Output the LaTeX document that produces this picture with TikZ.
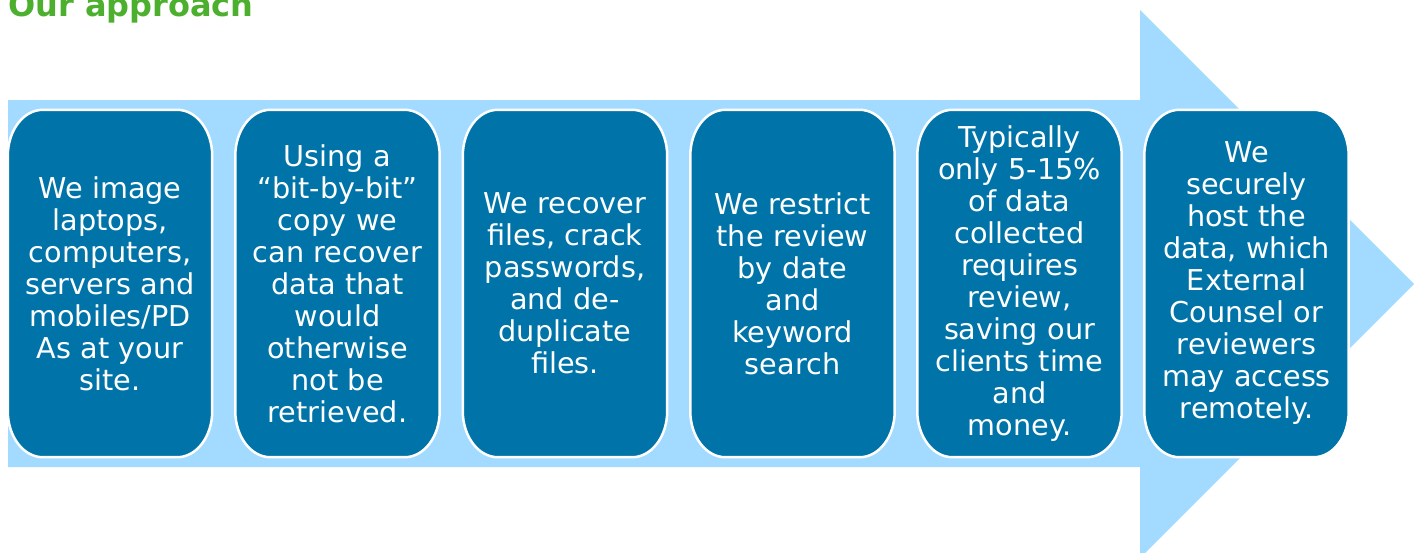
\documentclass[tikz,border=0pt]{standalone}
\usepackage{fontspec}
\setmainfont{DejaVu Sans}
\usetikzlibrary{backgrounds,calc}
\definecolor{arrowblue}{RGB}{162,219,255}
\definecolor{boxblue}{RGB}{0,116,168}
\definecolor{titlegreen}{RGB}{76,176,46}
\begin{document}
\begin{tikzpicture}[x=1pt,y=-1pt,
  stepbox/.style={draw=none, minimum width=204pt, minimum height=347pt,
    inner sep=0pt, text width=190pt, align=center, text=white,
    font=\fontsize{28.7}{32}\selectfont},
  boxshape/.style={draw=white, line width=2.5pt, fill=boxblue},
  ]
\useasboundingbox (0,0) rectangle (1418,552);
\begin{scope}[on background layer]
\fill[arrowblue] (8,100) -- (1140,100) -- (1140,10) -- (1414,284) -- (1140,558)
  -- (1140,467) -- (8,467) -- cycle;
\end{scope}
\node[anchor=base west, inner sep=0pt, text=titlegreen,
  font=\fontsize{32}{36}\selectfont\bfseries] (title) at (8,16) {Our approach};
\node[stepbox] (s1) at (110,283.5) {We image\\laptops,\\computers,\\servers and\\mobiles/PD\\As at your\\site.};
\node[stepbox] (s2) at (337.5,283.5) {Using a\\``bit-by-bit''\\copy we\\can recover\\data that\\would\\otherwise\\not be\\retrieved.};
\node[stepbox] (s3) at (565,283.5) {We recover\\files, crack\\passwords,\\and de-\\duplicate\\files.};
\node[stepbox] (s4) at (792.5,283.5) {We restrict\\the review\\by date\\and\\keyword\\search};
\node[stepbox] (s5) at (1019.5,283.5) {Typically\\only 5-15\%\\of data\\collected\\requires\\review,\\saving our\\clients time\\and\\money.};
\node[stepbox] (s6) at (1246.5,283.5) {We\\securely\\host the\\data, which\\External\\Counsel or\\reviewers\\may access\\remotely.};
\begin{scope}[on background layer]
\foreach \n in {s1,s2,s3,s4,s5,s6}{
  \draw[boxshape] ($(\n.north west)+(0,46)$) arc[start angle=180, end angle=270, x radius=35, y radius=46]
    -- ($(\n.north east)+(-35,0)$) arc[start angle=270, end angle=360, x radius=35, y radius=46]
    -- ($(\n.south east)+(0,-46)$) arc[start angle=0, end angle=90, x radius=35, y radius=46]
    -- ($(\n.south west)+(35,0)$) arc[start angle=90, end angle=180, x radius=35, y radius=46]
    -- cycle;
}
\end{scope}
\end{tikzpicture}
\end{document}
